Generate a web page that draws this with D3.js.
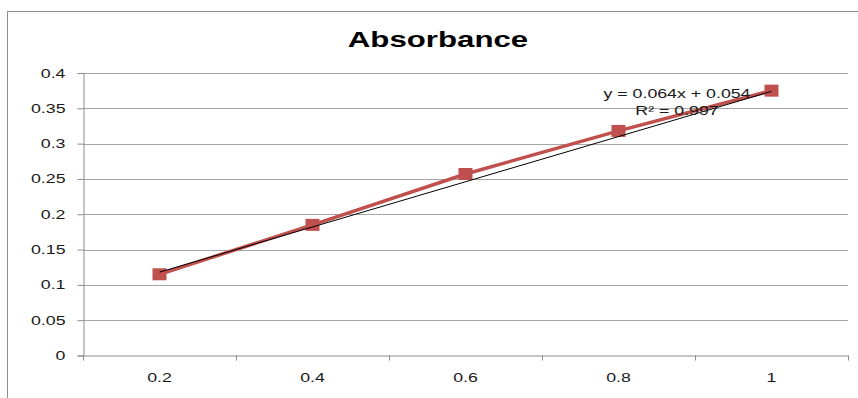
<!DOCTYPE html>
<html>
<head>
<meta charset="utf-8">
<script src="https://cdn.jsdelivr.net/npm/d3@7"></script>
<style>
  body { margin: 0; background: #fff; }
  svg { display: block; font-family: "Liberation Sans", Arial, sans-serif; }
</style>
</head>
<body>
<div id="chart"></div>
<script>
const categories = ["0.2", "0.4", "0.6", "0.8", "1"];
const absorbance = [0.115, 0.185, 0.257, 0.318, 0.375];
const yTicks = [0, 0.05, 0.1, 0.15, 0.2, 0.25, 0.3, 0.35, 0.4];
// linear trendline from Excel, x = category index 1..5
const trendSlope = 0.064;
const trendIntercept = 0.054;
const trendLabel = ["y = 0.064x + 0.054", "R² = 0.997"];

const width = 858, height = 398;
const plot = { left: 83, right: 848, top: 73, bottom: 355.5 };
const SX = 1.42; // the source picture is stretched horizontally

const svg = d3.select("#chart").append("svg")
    .attr("width", width)
    .attr("height", height);

// outer chart border
svg.append("rect")
    .attr("x", 7.5).attr("y", 11.5)
    .attr("width", 880).attr("height", 420)
    .attr("fill", "none")
    .attr("stroke", "#8c8c8c");

const x = d3.scaleBand()
    .domain(categories)
    .range([plot.left, plot.right]);

const y = d3.scaleLinear()
    .domain([0, 0.4])
    .range([plot.bottom, plot.top]);

const xIdx = d3.scaleLinear()
    .domain([1, categories.length])
    .range([x(categories[0]) + x.bandwidth() / 2, x(categories[categories.length - 1]) + x.bandwidth() / 2]);

// gridlines
svg.append("g")
    .selectAll("line")
    .data(yTicks.filter(d => d > 0))
    .enter()
    .append("line")
    .attr("x1", plot.left)
    .attr("x2", plot.right)
    .attr("y1", d => Math.round(y(d)) + 0.5)
    .attr("y2", d => Math.round(y(d)) + 0.5)
    .attr("stroke", "#a6a6a6");

// y axis
const yAxis = svg.append("g")
    .attr("transform", `translate(${plot.left + 0.5},0)`)
    .call(d3.axisLeft(y).tickValues(yTicks).tickSize(6).tickFormat(d => String(+d.toFixed(2))));
yAxis.select(".domain").attr("stroke", "#8c8c8c");
yAxis.selectAll(".tick line").attr("stroke", "#8c8c8c");
yAxis.selectAll("text")
    .attr("x", -18 / SX)
    .attr("transform", `scale(${SX},1)`)
    .attr("font-size", 12.5)
    .attr("fill", "#1a1a1a")
    .attr("font-family", "Liberation Sans, Arial, sans-serif");

// x axis
const xAxis = svg.append("g")
    .attr("transform", `translate(0,${plot.bottom})`)
    .call(d3.axisBottom(x).tickSize(0).tickPadding(18));
xAxis.select(".domain").attr("stroke", "#8c8c8c");
xAxis.selectAll("text")
    .attr("transform", `scale(${SX},1)`)
    .attr("font-size", 12.5)
    .attr("fill", "#1a1a1a")
    .attr("font-family", "Liberation Sans, Arial, sans-serif");

// category boundary ticks
svg.append("g")
    .selectAll("line")
    .data(d3.range(categories.length + 1))
    .enter()
    .append("line")
    .attr("x1", i => (i < categories.length ? x(categories[i]) : x.range()[1]) + 0.5)
    .attr("x2", i => (i < categories.length ? x(categories[i]) : x.range()[1]) + 0.5)
    .attr("y1", plot.bottom)
    .attr("y2", plot.bottom + 5)
    .attr("stroke", "#8c8c8c");

// data line
const line = d3.line()
    .x((d, i) => x(categories[i]) + x.bandwidth() / 2)
    .y(d => y(d));

svg.append("path")
    .datum(absorbance)
    .attr("d", line)
    .attr("fill", "none")
    .attr("stroke", "#c0504d")
    .attr("stroke-width", 3.5);

// markers
svg.append("g")
    .selectAll("rect")
    .data(absorbance)
    .enter()
    .append("rect")
    .attr("x", (d, i) => x(categories[i]) + x.bandwidth() / 2 - 7)
    .attr("y", d => y(d) - 6)
    .attr("width", 14)
    .attr("height", 12)
    .attr("fill", "#c0504d");

// trendline
svg.append("line")
    .attr("x1", xIdx(1))
    .attr("y1", y(trendSlope * 1 + trendIntercept))
    .attr("x2", xIdx(categories.length))
    .attr("y2", y(trendSlope * categories.length + trendIntercept))
    .attr("stroke", "#000")
    .attr("stroke-width", 1);

// trendline label
svg.append("g")
    .selectAll("g")
    .data(trendLabel)
    .enter()
    .append("g")
    .attr("transform", (d, i) => `translate(677,${98 + i * 17})`)
    .append("text")
    .attr("transform", `scale(${SX},1)`)
    .attr("text-anchor", "middle")
    .attr("font-size", 12.5)
    .attr("fill", "#1a1a1a")
    .text(d => d);

// title
svg.append("g")
    .attr("transform", "translate(438,47)")
    .append("text")
    .attr("transform", `scale(${SX},1)`)
    .attr("text-anchor", "middle")
    .attr("font-size", 22)
    .attr("font-weight", "bold")
    .attr("fill", "#000")
    .text("Absorbance");
</script>
</body>
</html>
